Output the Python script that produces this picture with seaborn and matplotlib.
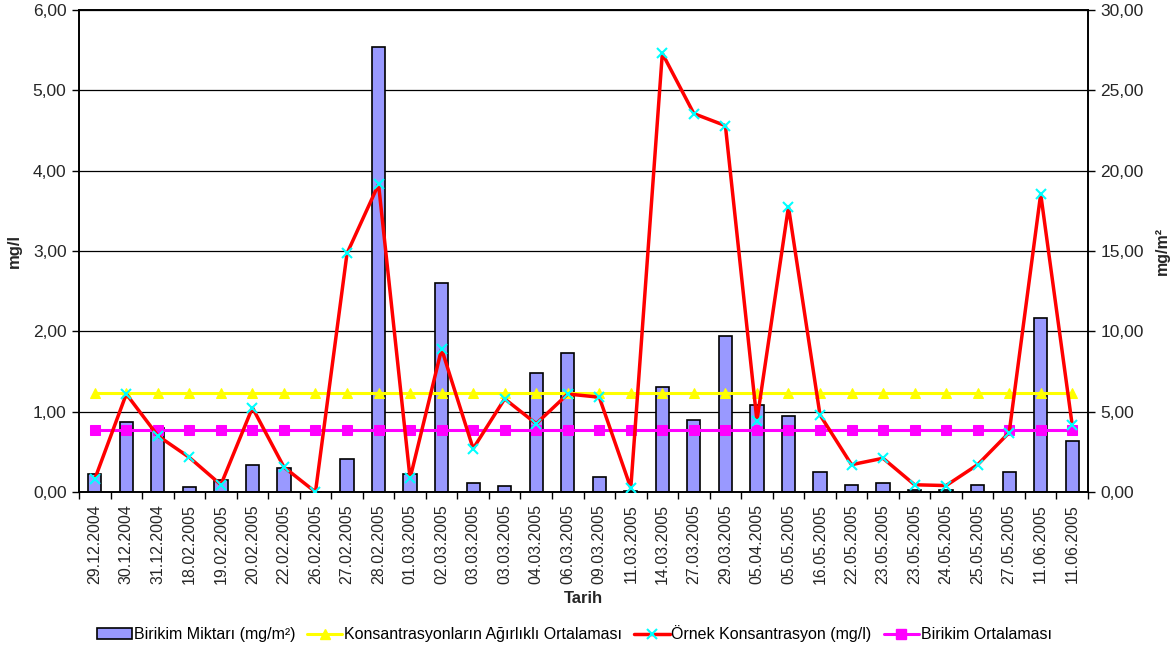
import numpy as np
import pandas as pd
import matplotlib
matplotlib.use("Agg")
import matplotlib.pyplot as plt
from matplotlib.ticker import FuncFormatter, FixedLocator
from matplotlib.lines import Line2D
from matplotlib.patches import Patch
import seaborn as sns

# Sampling dates
tarihler = [
    "29.12.2004", "30.12.2004", "31.12.2004", "18.02.2005", "19.02.2005",
    "20.02.2005", "22.02.2005", "26.02.2005", "27.02.2005", "28.02.2005",
    "01.03.2005", "02.03.2005", "03.03.2005", "03.03.2005", "04.03.2005",
    "06.03.2005", "09.03.2005", "11.03.2005", "14.03.2005", "27.03.2005",
    "29.03.2005", "05.04.2005", "05.05.2005", "16.05.2005", "22.05.2005",
    "23.05.2005", "23.05.2005", "24.05.2005", "25.05.2005", "27.05.2005",
    "11.06.2005", "11.06.2005",
]

# Deposition amount (mg/m²), right axis
birikim_miktari = [
    1.12, 4.34, 4.00, 0.29, 0.77, 1.68, 1.51, 0.00, 2.07, 27.71,
    1.10, 13.00, 0.56, 0.37, 7.42, 8.65, 0.95, 0.05, 6.53, 4.50,
    9.69, 5.43, 4.71, 1.27, 0.44, 0.56, 0.12, 0.12, 0.44, 1.27,
    10.81, 3.17,
]

# Sample concentration (mg/l), left axis
ornek_konsantrasyon = [
    0.16, 1.22, 0.70, 0.43, 0.09, 1.05, 0.31, 0.00, 2.97, 3.83,
    0.17, 1.78, 0.54, 1.16, 0.85, 1.22, 1.18, 0.05, 5.46, 4.71,
    4.56, 0.89, 3.55, 0.96, 0.34, 0.42, 0.09, 0.08, 0.34, 0.74,
    3.71, 0.83,
]

# Weighted mean of concentrations (mg/l) and mean deposition (mg/m²)
agirlikli_ortalama = 1.23
birikim_ortalamasi = 3.86

left_ticks = [0, 1, 2, 3, 4, 5, 6]
right_ticks = [0, 5, 10, 15, 20, 25, 30]

n = len(tarihler)
df = pd.DataFrame({
    "pos": np.arange(n),
    "birikim": birikim_miktari,
    "konsantrasyon": ornek_konsantrasyon,
    "agirlikli": [agirlikli_ortalama] * n,
    "birikim_ort": [birikim_ortalamasi] * n,
})

sns.set_theme(style="white")
plt.rcParams["font.family"] = ["Liberation Sans", "DejaVu Sans"]
plt.rcParams["text.color"] = "black"

fig = plt.figure(figsize=(11.72, 6.54), dpi=100)
ax = fig.add_axes([79 / 1172, 162 / 654, 1009 / 1172, 482 / 654])

BAR_COLOR = "#9999FF"

# Bars on the deposition axis
sns.barplot(data=df, x="pos", y="birikim", ax=ax, color=BAR_COLOR,
            edgecolor="black", linewidth=1.2, width=0.42, saturation=1,
            errorbar=None, zorder=2)
# Mean deposition line
sns.lineplot(data=df, x="pos", y="birikim_ort", ax=ax, color="#FF00FF",
             linewidth=2.2, marker="s", markersize=6.5, markeredgecolor="#FF00FF",
             legend=False, zorder=3)

ax2 = ax.twinx()
# Weighted mean concentration line
sns.lineplot(data=df, x="pos", y="agirlikli", ax=ax2, color="#FFFF00",
             linewidth=2.2, marker="^", markersize=7.5, markeredgecolor="#FFFF00",
             legend=False, zorder=3)
# Sample concentration line
sns.lineplot(data=df, x="pos", y="konsantrasyon", ax=ax2, color="#FF0000",
             linewidth=2.5, marker="x", markersize=7, markeredgecolor="#00FFFF",
             markeredgewidth=1.5, legend=False, zorder=4)

# Axis placement: deposition on the right, concentration on the left
ax.yaxis.tick_right()
ax.yaxis.set_label_position("right")
ax2.yaxis.tick_left()
ax2.yaxis.set_label_position("left")

ax.set_xlim(-0.5, n - 0.5)
ax.set_ylim(0, 30)
ax2.set_ylim(0, 6)
ax.yaxis.set_major_locator(FixedLocator(right_ticks))
ax2.yaxis.set_major_locator(FixedLocator(left_ticks))

fmt = FuncFormatter(lambda v, p: f"{v:.2f}".replace(".", ","))
ax.yaxis.set_major_formatter(fmt)
ax2.yaxis.set_major_formatter(fmt)

ax.set_xticks(np.arange(n))
ax.set_xticklabels(tarihler, rotation=90, fontsize=11.5)
ax.set_xticks(np.arange(n + 1) - 0.5, minor=True)
ax.tick_params(axis="x", which="major", length=0, pad=9)
ax.tick_params(axis="x", which="minor", length=5, width=1, color="black",
               direction="out", bottom=True)
ax.tick_params(axis="y", which="major", length=5, width=1, color="black",
               direction="out", labelsize=12.5, right=True, left=False, pad=4)
ax2.tick_params(axis="y", which="major", length=5, width=1, color="black",
                direction="out", labelsize=12.5, left=True, right=False, pad=4)

ax.grid(axis="y", color="black", linewidth=0.9)
ax.grid(axis="x", visible=False)
ax.set_axisbelow(True)

for a in (ax, ax2):
    for s in a.spines.values():
        s.set_visible(True)
        s.set_color("black")
        s.set_linewidth(1.2)

ax.set_xlabel("Tarih", fontsize=12, fontweight="bold", labelpad=5)
ax.set_ylabel("mg/m²", fontsize=11.5, fontweight="bold", rotation=90, labelpad=8)
ax2.set_ylabel("mg/l", fontsize=12, fontweight="bold", labelpad=8)

handles = [
    Patch(facecolor=BAR_COLOR, edgecolor="black", linewidth=1.2),
    Line2D([], [], color="#FFFF00", linewidth=2.2, marker="^", markersize=7.5,
           markeredgecolor="#FFFF00"),
    Line2D([], [], color="#FF0000", linewidth=2.5, marker="x", markersize=7,
           markeredgecolor="#00FFFF", markeredgewidth=1.5),
    Line2D([], [], color="#FF00FF", linewidth=2.2, marker="s", markersize=6.5,
           markeredgecolor="#FF00FF"),
]
labels = [
    "Birikim Miktarı (mg/m²)",
    "Konsantrasyonların Ağırlıklı Ortalaması",
    "Örnek Konsantrasyon (mg/l)",
    "Birikim Ortalaması",
]
fig.legend(handles, labels, loc="center", bbox_to_anchor=(0.49, 20 / 654),
           ncol=4, frameon=False, fontsize=11.5, handlelength=2.2,
           handletextpad=0.12, columnspacing=0.75, handleheight=0.7)

fig.savefig("out.png", dpi=100)
